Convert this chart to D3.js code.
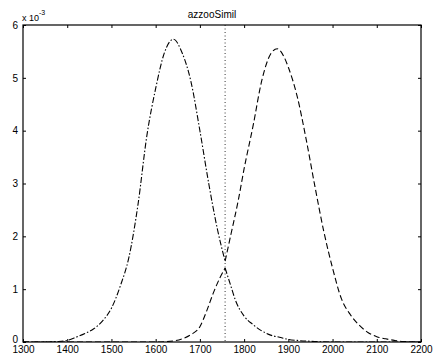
<!DOCTYPE html>
<html>
<head>
<meta charset="utf-8">
<script src="https://cdn.jsdelivr.net/npm/d3@7"></script>
<style>
  html, body { margin: 0; padding: 0; background: #fff; }
  svg { display: block; }
  text { font-family: "Liberation Sans", Arial, sans-serif; fill: #000; }
</style>
</head>
<body>
<svg id="chart" width="433" height="360"></svg>
<script>
// Axis ticks
const xTicks = [1300, 1400, 1500, 1600, 1700, 1800, 1900, 2000, 2100, 2200];
const yTicks = [0, 1, 2, 3, 4, 5, 6];

// Decision threshold (dotted vertical line)
const threshold = 1757;

// Dash-dot curve, values in units of 1e-3: left branch up to the threshold
const aLeftX = [1300, 1340, 1380, 1400, 1420, 1440, 1460, 1480, 1500, 1520, 1540, 1560, 1580, 1600, 1620, 1640, 1660, 1680, 1700, 1720, 1740, 1757];
const aLeftY = [0, 0, 0.01, 0.03, 0.09, 0.16, 0.25, 0.40, 0.64, 1.06, 1.62, 2.60, 3.90, 4.80, 5.48, 5.73, 5.47, 4.92, 4.00, 3.00, 2.12, 1.53];
// ... and its tail beyond the threshold
const aRightX = [1757, 1770, 1780, 1800, 1820, 1840, 1860, 1880, 1900, 1920, 1960, 2000, 2200];
const aRightY = [1.40, 1.06, 0.80, 0.49, 0.33, 0.21, 0.13, 0.09, 0.05, 0.03, 0.01, 0, 0];

// Dashed curve: rising branch below the threshold
const bLeftX = [1300, 1600, 1640, 1660, 1680, 1700, 1715, 1730, 1745, 1757];
const bLeftY = [0, 0, 0.02, 0.06, 0.14, 0.29, 0.58, 0.92, 1.21, 1.40];
// ... and the main peak above the threshold
const bRightX = [1757, 1770, 1787, 1800, 1820, 1840, 1860, 1875, 1890, 1900, 1920, 1940, 1960, 1980, 2000, 2020, 2040, 2060, 2080, 2100, 2120, 2140, 2160, 2200];
const bRightY = [1.53, 2.03, 2.69, 3.28, 4.08, 4.95, 5.45, 5.55, 5.40, 5.20, 4.65, 3.85, 2.95, 2.10, 1.40, 0.82, 0.52, 0.32, 0.18, 0.10, 0.06, 0.03, 0.01, 0];

const titleText = "azzooSimil";

const svg = d3.select("#chart");
const m = { left: 23, right: 12, top: 25, bottom: 18 };
const W = 433, H = 360;
const x = d3.scaleLinear().domain([1300, 2200]).range([m.left, W - m.right]);
const y = d3.scaleLinear().domain([0, 6]).range([H - m.bottom, m.top]);

const x0 = x.range()[0], x1 = x.range()[1];
const y0 = y.range()[0], y1 = y.range()[1];

// clip region for the data lines
svg.append("clipPath").attr("id", "plot")
  .append("rect").attr("x", x0).attr("y", y1).attr("width", x1 - x0).attr("height", y0 - y1);

const fontSize = 10;

// bottom axis (ticks pointing inward)
const gx = svg.append("g").attr("transform", `translate(0,${y0})`)
  .call(d3.axisBottom(x).tickValues(xTicks).tickSizeInner(-3).tickSizeOuter(0).tickPadding(4).tickFormat(d3.format("d")));
// top axis ticks (no labels)
const gxt = svg.append("g").attr("transform", `translate(0,${y1})`)
  .call(d3.axisTop(x).tickValues(xTicks).tickSizeInner(-3).tickSizeOuter(0).tickFormat(""));
// left axis
const gy = svg.append("g").attr("transform", `translate(${x0},0)`)
  .call(d3.axisLeft(y).tickValues(yTicks).tickSizeInner(-3).tickSizeOuter(0).tickPadding(5).tickFormat(d3.format("d")));
// right axis ticks
const gyr = svg.append("g").attr("transform", `translate(${x1},0)`)
  .call(d3.axisRight(y).tickValues(yTicks).tickSizeInner(-3).tickSizeOuter(0).tickFormat(""));

[gx, gxt, gy, gyr].forEach(g => {
  g.select(".domain").remove();
  g.selectAll(".tick line").attr("stroke", "#000").attr("stroke-width", 1);
  g.selectAll("text").attr("font-size", fontSize).attr("font-family", "Liberation Sans, Arial, sans-serif").attr("fill", "#000");
});
gx.selectAll("text").attr("dy", "0.7em");
// the zero label sits just above the first x label
gy.selectAll(".tick").filter(d => d === 0).select("text").attr("dy", "0.05em");

// axes box
svg.append("rect")
  .attr("x", x0).attr("y", y1).attr("width", x1 - x0).attr("height", y0 - y1)
  .attr("fill", "none").attr("stroke", "#000").attr("stroke-width", 1.2);

// exponent label
const ex = svg.append("text").attr("x", x0 - 1).attr("y", y1 - 4).attr("font-size", 9);
ex.append("tspan").text("x 10");
ex.append("tspan").attr("dy", -6).attr("font-size", 7).text("-3");

// title
svg.append("text").attr("x", 212).attr("y", 18).attr("text-anchor", "middle")
  .attr("font-size", fontSize).text(titleText);

const plot = svg.append("g").attr("clip-path", "url(#plot)");

// threshold line
plot.append("line")
  .attr("x1", x(threshold)).attr("x2", x(threshold)).attr("y1", y(6)).attr("y2", y(0))
  .attr("stroke", "#000").attr("stroke-width", 0.8).attr("stroke-dasharray", "1,2.5");

const line = d3.line().x(d => x(d[0])).y(d => y(d[1])).curve(d3.curveMonotoneX);
const pairs = (xs, ys) => xs.map((v, i) => [v, ys[i]]);

const dashDot = "6,2,1.5,2";
const dashed = "6,3";

[[aLeftX, aLeftY, dashDot], [aRightX, aRightY, dashDot], [bLeftX, bLeftY, dashed], [bRightX, bRightY, dashed]]
  .forEach(([xs, ys, dash]) => {
    plot.append("path")
      .attr("d", line(pairs(xs, ys)))
      .attr("fill", "none").attr("stroke", "#000").attr("stroke-width", 1.1)
      .attr("stroke-dasharray", dash);
  });
</script>
</body>
</html>
